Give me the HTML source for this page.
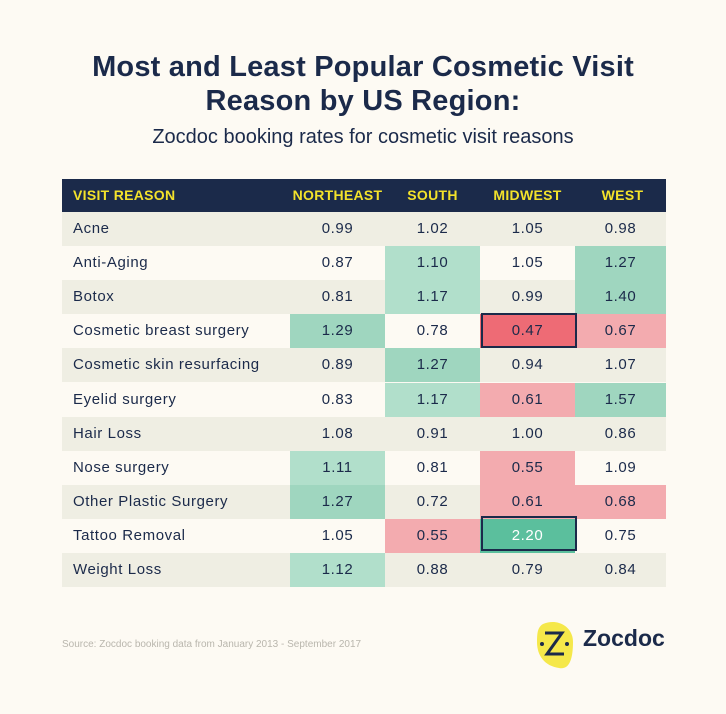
<!DOCTYPE html>
<html><head><meta charset="utf-8"><style>
body{margin:0;width:726px;height:714px;background:#fdfaf3;font-family:"Liberation Sans",sans-serif;color:#1b2a4a;position:relative;overflow:hidden}
.t{position:absolute;left:0;width:726px;text-align:center;font-weight:bold;font-size:29px;letter-spacing:.2px}
.row{position:absolute;left:62px;width:604px;height:34px}
.c{position:absolute;top:0;height:100%;line-height:34px;text-align:center;font-size:15px;letter-spacing:.6px}
.n{left:0;width:228px;text-align:left;padding-left:11px;box-sizing:border-box}
.h .c{color:#f3e22b;font-weight:bold;font-size:14px;letter-spacing:.3px;line-height:33px}
.box{position:absolute;border:2px solid #1b2a4a;box-sizing:border-box}
</style></head><body>
<div class="t" style="top:51px">Most and Least Popular Cosmetic Visit</div>
<div class="t" style="top:85px">Reason by US Region:</div>
<div style="position:absolute;top:126px;left:0;width:726px;text-align:center;font-size:20px">Zocdoc booking rates for cosmetic visit reasons</div>
<div id="tb"></div>
<div style="position:absolute;left:62px;top:639px;font-size:10px;color:#b9b6ad">Source: Zocdoc booking data from January 2013 - September 2017</div>
<svg style="position:absolute;left:535px;top:620px" width="40" height="50"><path d="M8 4 C22 -2 38 6 38 22 C38 40 34 50 24 48 C10 46 2 36 2 22 C2 12 3 7 8 4Z" fill="#f5e84a"/><path d="M10 13 H27 L12 34 H29" stroke="#1b2a4a" stroke-width="3" fill="none"/><circle cx="7" cy="24" r="2" fill="#1b2a4a"/><circle cx="32" cy="24" r="2" fill="#1b2a4a"/></svg>
<div style="position:absolute;left:583px;top:625px;font-size:23px;font-weight:bold">Zocdoc</div>
<script>
var d=[["Acne",.99,1.02,1.05,.98],["Anti-Aging",.87,1.10,1.05,1.27],["Botox",.81,1.17,.99,1.40],["Cosmetic breast surgery",1.29,.78,.47,.67],["Cosmetic skin resurfacing",.89,1.27,.94,1.07],["Eyelid surgery",.83,1.17,.61,1.57],["Hair Loss",1.08,.91,1.00,.86],["Nose surgery",1.11,.81,.55,1.09],["Other Plastic Surgery",1.27,.72,.61,.68],["Tattoo Removal",1.05,.55,2.20,.75],["Weight Loss",1.12,.88,.79,.84]];
var L=[228,323,418,513],W=95;
function col(v){if(v>=2)return"#5bbf9d";if(v>=1.25)return"#9fd6bf";if(v>=1.1)return"#b1dfcb";if(v<.5)return"#ee6b75";if(v<.7)return"#f3abaf";return null}
var h='<div class="row h" style="top:179px;height:33px;background:#1b2a4a"><div class="c n">VISIT REASON</div>';
["NORTHEAST","SOUTH","MIDWEST","WEST"].forEach(function(s,i){h+='<div class="c" style="left:'+L[i]+'px;width:'+W+'px">'+s+'</div>'});h+='</div>';
d.forEach(function(r,j){var y=212+j*34.1;h+='<div class="row" style="top:'+y+'px;background:'+(j%2?'#fdfaf3':'#efeee3')+'"><div class="c n">'+r[0]+'</div>';
for(var i=0;i<4;i++){var v=r[i+1],c=col(v);h+='<div class="c" style="left:'+L[i]+'px;width:'+(i==3?91:W)+'px;'+(c?'background:'+c+';':'')+(v>=2?'color:#fff;':'')+'">'+v.toFixed(2)+'</div>'}h+='</div>'});
h+='<div class="box" style="left:481px;top:313px;width:96px;height:35px"></div><div class="box" style="left:481px;top:516px;width:96px;height:35px"></div>';
document.getElementById("tb").innerHTML=h;
</script>
</body></html>
